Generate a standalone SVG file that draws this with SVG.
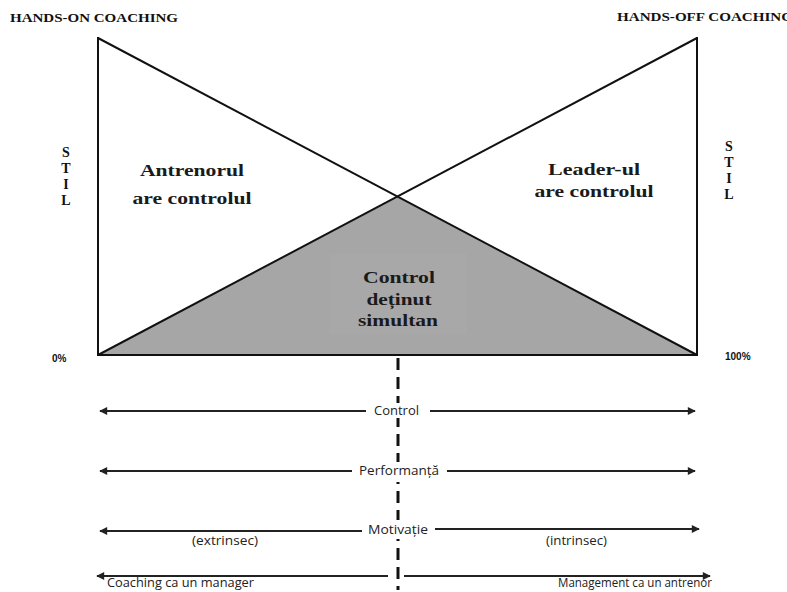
<svg xmlns="http://www.w3.org/2000/svg" width="787" height="592" viewBox="0 0 787 592">
<defs>
<style>
.hdr{font-family:"Liberation Serif","Times New Roman",serif;font-weight:bold;font-size:12px;fill:#111}
.stil{font-family:"Liberation Serif","Times New Roman",serif;font-weight:bold;font-size:14px;fill:#111;text-anchor:middle}
.big{font-family:"Liberation Serif","Times New Roman",serif;font-weight:bold;font-size:17px;fill:#1a1a1a;text-anchor:middle}
.pct{font-family:"Liberation Sans",Arial,sans-serif;font-weight:bold;font-size:10px;fill:#111}
.lbl{font-family:"Open Sans","Liberation Sans",sans-serif;font-size:12px;fill:#222}
.ax{stroke:#222;stroke-width:2;fill:none}
.edge{stroke:#111;stroke-width:2;fill:none}
.bg{fill:#fff}
</style>
<marker id="ah" viewBox="0 0 10 10" refX="9" refY="5" markerWidth="5" markerHeight="4" markerUnits="strokeWidth" orient="auto-start-reverse">
<path d="M0,0 L10,5 L0,10 z" fill="#222"/>
</marker>
</defs>
<rect width="787" height="592" fill="#fff"/>

<g id="headers">
<text class="hdr" x="10" y="22" textLength="168" lengthAdjust="spacingAndGlyphs">HANDS-ON COACHING</text>
<text class="hdr" x="617" y="21" textLength="176" lengthAdjust="spacingAndGlyphs">HANDS-OFF COACHING</text>
</g>

<g id="stil-left">
<text class="stil" x="66" y="157">S</text>
<text class="stil" x="66" y="173">T</text>
<text class="stil" x="66" y="189">I</text>
<text class="stil" x="66" y="205">L</text>
</g>
<g id="stil-right">
<text class="stil" x="729" y="151">S</text>
<text class="stil" x="729" y="167">T</text>
<text class="stil" x="729" y="183">I</text>
<text class="stil" x="729" y="199">L</text>
</g>

<g id="shared-triangle">
<polygon points="98,355 398,197 697,355" fill="#a6a6a6"/>
<rect x="330" y="254" width="137" height="80" fill="#a8a8a8"/>
<text class="big" x="399" y="283" textLength="72" lengthAdjust="spacingAndGlyphs">Control</text>
<text class="big" x="399" y="305" textLength="65" lengthAdjust="spacingAndGlyphs">deținut</text>
<text class="big" x="398" y="326" textLength="80" lengthAdjust="spacingAndGlyphs">simultan</text>
</g>

<g id="coach-control">
<text class="big" x="192" y="176" textLength="104" lengthAdjust="spacingAndGlyphs">Antrenorul</text>
<text class="big" x="192" y="204" textLength="119" lengthAdjust="spacingAndGlyphs">are controlul</text>
</g>
<g id="leader-control">
<text class="big" x="594" y="175" textLength="92" lengthAdjust="spacingAndGlyphs">Leader-ul</text>
<text class="big" x="594" y="197" textLength="119" lengthAdjust="spacingAndGlyphs">are controlul</text>
</g>

<g id="frame">
<line class="edge" x1="98" y1="37" x2="98" y2="356"/>
<line class="edge" x1="697" y1="37" x2="697" y2="356"/>
<line class="edge" x1="97" y1="355" x2="698" y2="355"/>
<line class="edge" x1="98" y1="38" x2="697" y2="355"/>
<line class="edge" x1="697" y1="38" x2="98" y2="355"/>
</g>

<g id="percent">
<text class="pct" x="52" y="362">0%</text>
<text class="pct" x="725" y="360">100%</text>
</g>

<g id="connectors">
<line x1="398" y1="358" x2="398" y2="590" stroke="#111" stroke-width="3" stroke-dasharray="12,7"/>
<line class="ax" x1="100" y1="411" x2="366" y2="411" marker-start="url(#ah)"/>
<line class="ax" x1="430" y1="411" x2="695" y2="411" marker-end="url(#ah)"/>
<line class="ax" x1="100" y1="471" x2="352" y2="471" marker-start="url(#ah)"/>
<line class="ax" x1="447" y1="471" x2="695" y2="471" marker-end="url(#ah)"/>
<line class="ax" x1="100" y1="531" x2="362" y2="531" marker-start="url(#ah)"/>
<line class="ax" x1="435" y1="529" x2="699" y2="529" marker-end="url(#ah)"/>
<line class="ax" x1="97" y1="576" x2="388" y2="576" marker-start="url(#ah)"/>
<line class="ax" x1="404" y1="576" x2="710" y2="576" marker-end="url(#ah)"/>
</g>

<g id="labels">
<rect class="bg" x="371" y="403" width="51" height="15"/>
<text class="lbl" x="374" y="415" textLength="45" lengthAdjust="spacingAndGlyphs">Control</text>
<rect class="bg" x="356" y="462" width="89" height="20"/>
<text class="lbl" x="359" y="475" textLength="80" lengthAdjust="spacingAndGlyphs">Performanță</text>
<rect class="bg" x="365" y="520" width="66" height="19"/>
<text class="lbl" x="368" y="534" textLength="60" lengthAdjust="spacingAndGlyphs">Motivație</text>
<text class="lbl" x="192" y="545" textLength="66" lengthAdjust="spacingAndGlyphs">(extrinsec)</text>
<text class="lbl" x="546" y="545" textLength="61" lengthAdjust="spacingAndGlyphs">(intrinsec)</text>
<text class="lbl" x="107" y="587" textLength="147" lengthAdjust="spacingAndGlyphs">Coaching ca un manager</text>
<text class="lbl" x="558" y="587" textLength="154" lengthAdjust="spacingAndGlyphs">Management ca un antrenor</text>
</g>
</svg>
